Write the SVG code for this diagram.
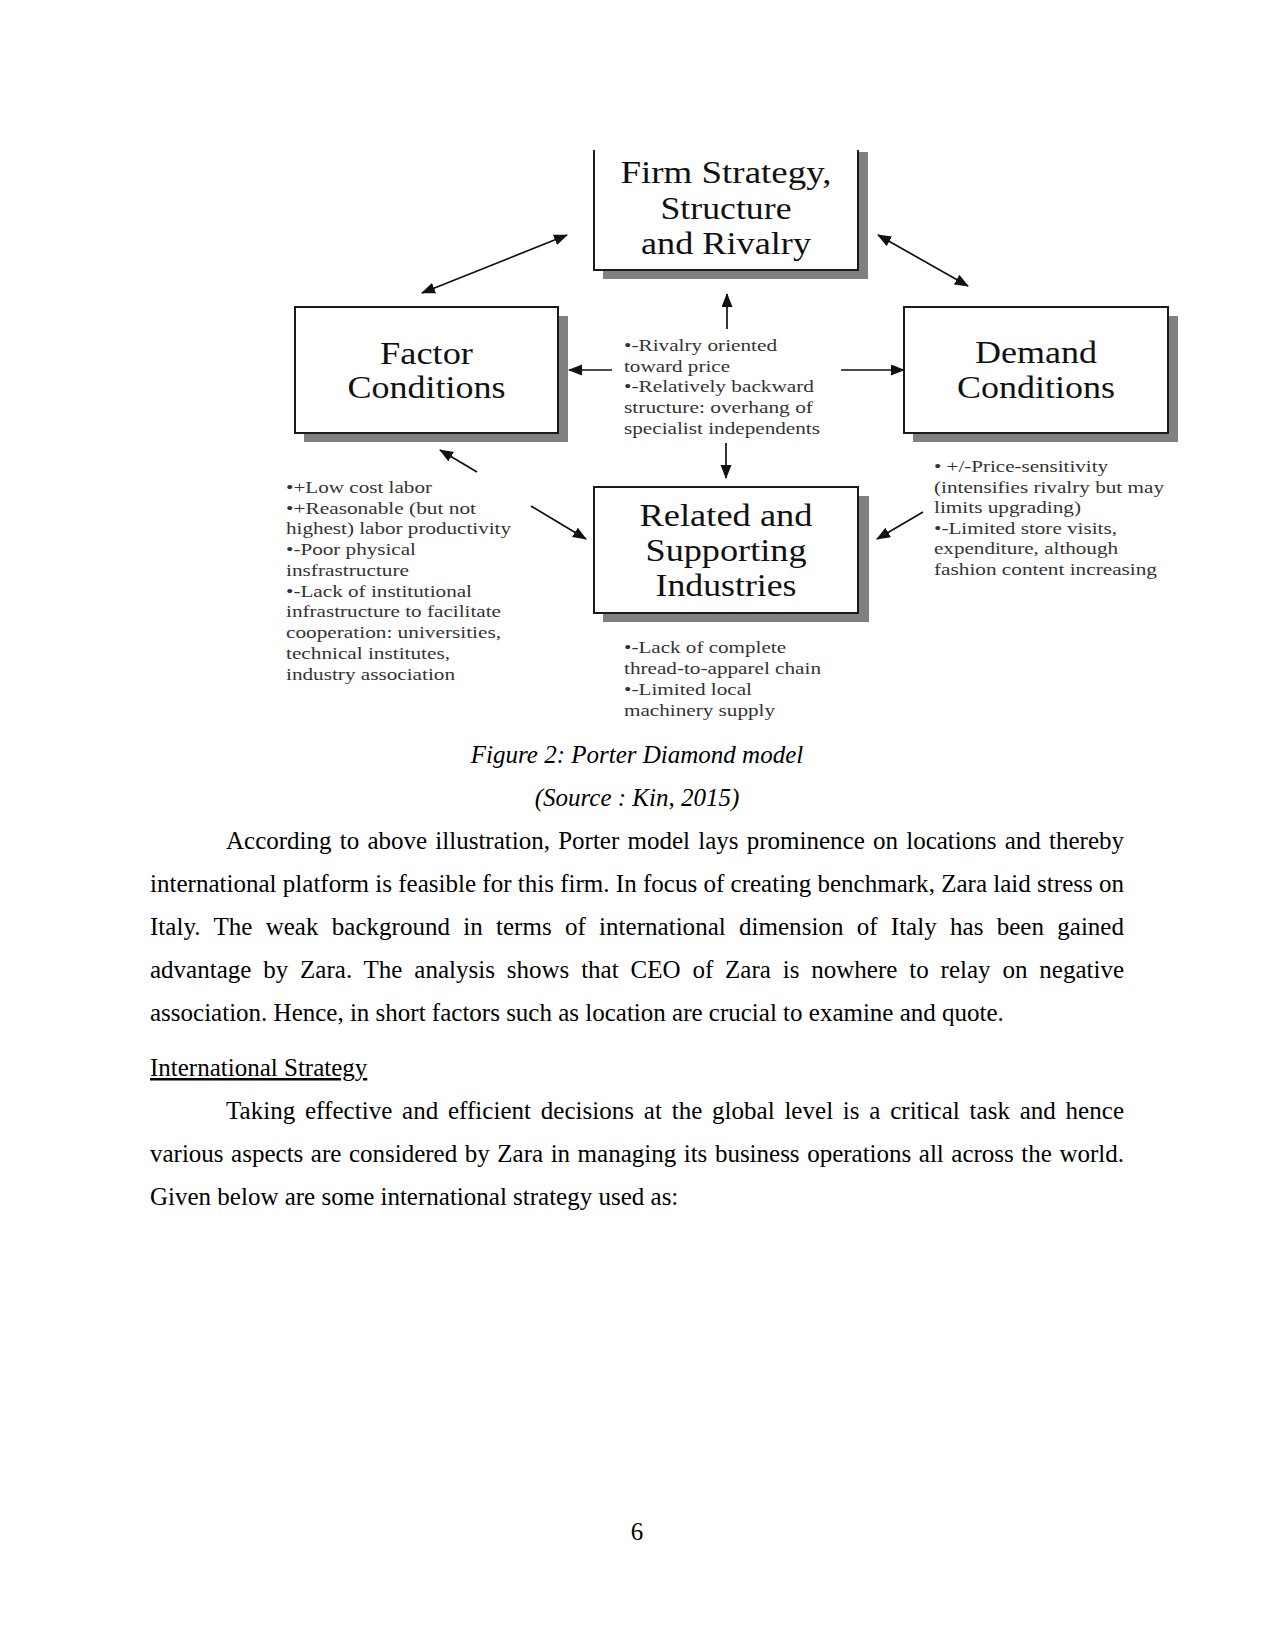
<svg xmlns="http://www.w3.org/2000/svg" width="1275" height="1650" viewBox="0 0 1275 1650">
<style>
.bg{fill:#fff}
.shadow{fill:#808080}
.box{fill:#fff;stroke:#1a1a1a;stroke-width:2}
.title{font-family:"Liberation Serif","Times New Roman",serif;font-size:31px;fill:#111;text-anchor:middle}
.note{font-family:"Liberation Serif","Times New Roman",serif;font-size:16px;fill:#333}
.conn{stroke:#111;stroke-width:1.7;fill:none}
.body{font-family:"Liberation Serif","Times New Roman",serif;font-size:25px;fill:#000}
.cap{font-family:"Liberation Serif","Times New Roman",serif;font-size:25px;font-style:italic;fill:#000;text-anchor:middle}
</style>
<defs>
<marker id="ah" markerUnits="userSpaceOnUse" markerWidth="15" markerHeight="12" refX="13" refY="5.5" orient="auto-start-reverse">
<path d="M0,0 L14,5.5 L0,11 Z" fill="#111"/>
</marker>
</defs>
<rect class="bg" x="0" y="0" width="1275" height="1650"/>

<g id="firm">
<rect class="shadow" x="603" y="152" width="265" height="127"/>
<rect x="594" y="150" width="264" height="120" fill="#fff"/>
<path d="M594,150 V270 H858 V150" class="box" fill="none"/>
<text class="title" x="726" y="183" textLength="211" lengthAdjust="spacingAndGlyphs">Firm Strategy,</text>
<text class="title" x="726" y="219" textLength="131" lengthAdjust="spacingAndGlyphs">Structure</text>
<text class="title" x="726" y="254" textLength="170" lengthAdjust="spacingAndGlyphs">and Rivalry</text>
</g>

<g id="factor">
<rect class="shadow" x="304" y="316" width="264" height="126"/>
<rect class="box" x="295" y="307" width="263" height="126"/>
<text class="title" x="426.5" y="364" textLength="93" lengthAdjust="spacingAndGlyphs">Factor</text>
<text class="title" x="426.5" y="398" textLength="158" lengthAdjust="spacingAndGlyphs">Conditions</text>
</g>

<g id="demand">
<rect class="shadow" x="913" y="316" width="265" height="126"/>
<rect class="box" x="904" y="307" width="264" height="126"/>
<text class="title" x="1036" y="363" textLength="122" lengthAdjust="spacingAndGlyphs">Demand</text>
<text class="title" x="1036" y="398" textLength="158" lengthAdjust="spacingAndGlyphs">Conditions</text>
</g>

<g id="related">
<rect class="shadow" x="603" y="496" width="266" height="126"/>
<rect class="box" x="594" y="487" width="264" height="126"/>
<text class="title" x="726" y="526" textLength="173" lengthAdjust="spacingAndGlyphs">Related and</text>
<text class="title" x="726" y="561" textLength="161" lengthAdjust="spacingAndGlyphs">Supporting</text>
<text class="title" x="726" y="596" textLength="141" lengthAdjust="spacingAndGlyphs">Industries</text>
</g>

<g id="rivalry-notes">
<text class="note" x="624" y="351" textLength="153" lengthAdjust="spacingAndGlyphs">•-Rivalry oriented</text>
<text class="note" x="624" y="372" textLength="106" lengthAdjust="spacingAndGlyphs">toward price</text>
<text class="note" x="624" y="392" textLength="190" lengthAdjust="spacingAndGlyphs">•-Relatively backward</text>
<text class="note" x="624" y="413" textLength="189" lengthAdjust="spacingAndGlyphs">structure: overhang of</text>
<text class="note" x="624" y="434" textLength="196" lengthAdjust="spacingAndGlyphs">specialist independents</text>
</g>

<g id="factor-notes">
<text class="note" x="286" y="493" textLength="146" lengthAdjust="spacingAndGlyphs">•+Low cost labor</text>
<text class="note" x="286" y="514" textLength="190" lengthAdjust="spacingAndGlyphs">•+Reasonable (but not</text>
<text class="note" x="286" y="534" textLength="225" lengthAdjust="spacingAndGlyphs">highest) labor productivity</text>
<text class="note" x="286" y="555" textLength="130" lengthAdjust="spacingAndGlyphs">•-Poor physical</text>
<text class="note" x="286" y="576" textLength="123" lengthAdjust="spacingAndGlyphs">insfrastructure</text>
<text class="note" x="286" y="597" textLength="186" lengthAdjust="spacingAndGlyphs">•-Lack of institutional</text>
<text class="note" x="286" y="617" textLength="215" lengthAdjust="spacingAndGlyphs">infrastructure to facilitate</text>
<text class="note" x="286" y="638" textLength="215" lengthAdjust="spacingAndGlyphs">cooperation: universities,</text>
<text class="note" x="286" y="659" textLength="164" lengthAdjust="spacingAndGlyphs">technical institutes,</text>
<text class="note" x="286" y="680" textLength="169" lengthAdjust="spacingAndGlyphs">industry association</text>
</g>

<g id="related-notes">
<text class="note" x="624" y="653" textLength="162" lengthAdjust="spacingAndGlyphs">•-Lack of complete</text>
<text class="note" x="624" y="674" textLength="197" lengthAdjust="spacingAndGlyphs">thread-to-apparel chain</text>
<text class="note" x="624" y="695" textLength="128" lengthAdjust="spacingAndGlyphs">•-Limited local</text>
<text class="note" x="624" y="716" textLength="151" lengthAdjust="spacingAndGlyphs">machinery supply</text>
</g>

<g id="demand-notes">
<text class="note" x="934" y="472" textLength="174" lengthAdjust="spacingAndGlyphs">• +/-Price-sensitivity</text>
<text class="note" x="934" y="493" textLength="230" lengthAdjust="spacingAndGlyphs">(intensifies rivalry but may</text>
<text class="note" x="934" y="513" textLength="147" lengthAdjust="spacingAndGlyphs">limits upgrading)</text>
<text class="note" x="934" y="534" textLength="183" lengthAdjust="spacingAndGlyphs">•-Limited store visits,</text>
<text class="note" x="934" y="554" textLength="184" lengthAdjust="spacingAndGlyphs">expenditure, although</text>
<text class="note" x="934" y="575" textLength="223" lengthAdjust="spacingAndGlyphs">fashion content increasing</text>
</g>

<g id="connectors">
<line class="conn" x1="422" y1="293" x2="567" y2="235" marker-start="url(#ah)" marker-end="url(#ah)"/>
<line class="conn" x1="878" y1="235" x2="968" y2="286" marker-start="url(#ah)" marker-end="url(#ah)"/>
<line class="conn" x1="727" y1="329" x2="727" y2="294" marker-end="url(#ah)"/>
<line class="conn" x1="612" y1="370" x2="569" y2="370" marker-end="url(#ah)"/>
<line class="conn" x1="841" y1="370" x2="904" y2="370" marker-end="url(#ah)"/>
<line class="conn" x1="726" y1="443" x2="726" y2="478" marker-end="url(#ah)"/>
<line class="conn" x1="477" y1="472" x2="440" y2="450" marker-end="url(#ah)"/>
<line class="conn" x1="531" y1="506" x2="586" y2="539" marker-end="url(#ah)"/>
<line class="conn" x1="923" y1="512" x2="877" y2="539" marker-end="url(#ah)"/>
</g>

<g id="page-text">
<text class="cap" x="637" y="763">Figure 2: Porter Diamond model</text>
<text class="cap" x="637" y="806">(Source : Kin, 2015)</text>
<text class="body" x="226" y="849" word-spacing="2" textLength="898" lengthAdjust="spacing">According to above illustration, Porter model lays prominence on locations and thereby</text>
<text class="body" x="150" y="892" textLength="974" lengthAdjust="spacing">international platform is feasible for this firm. In focus of creating benchmark, Zara laid stress on</text>
<text class="body" x="150" y="935" word-spacing="7" textLength="974" lengthAdjust="spacing">Italy. The weak background in terms of international dimension of Italy has been gained</text>
<text class="body" x="150" y="978" word-spacing="5.6" textLength="974" lengthAdjust="spacing">advantage by Zara. The analysis shows that CEO of Zara is nowhere to relay on negative</text>
<text class="body" x="150" y="1021">association. Hence, in short factors such as location are crucial to examine and quote.</text>
<text class="body" x="150" y="1076" text-decoration="underline">International Strategy</text>
<text class="body" x="226" y="1119" word-spacing="3.4" textLength="898" lengthAdjust="spacing">Taking effective and efficient decisions at the global level is a critical task and hence</text>
<text class="body" x="150" y="1162" word-spacing="1.3" textLength="974" lengthAdjust="spacing">various aspects are considered by Zara in managing its business operations all across the world.</text>
<text class="body" x="150" y="1205">Given below are some international strategy used as:</text>
<text class="body" x="637" y="1540" text-anchor="middle">6</text>
</g>
</svg>
